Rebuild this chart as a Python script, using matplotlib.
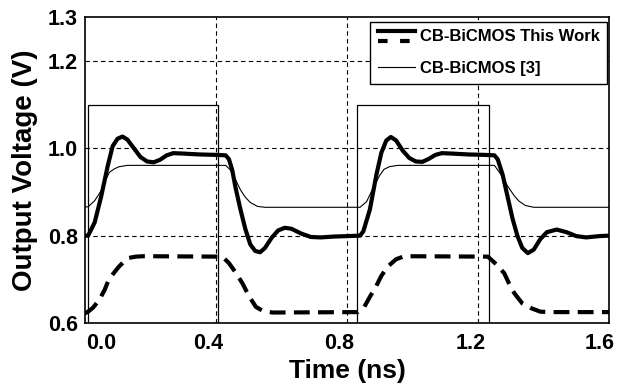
import matplotlib
matplotlib.use("Agg")
import matplotlib.pyplot as plt
import matplotlib.transforms as mtransforms
from matplotlib.lines import Line2D
from matplotlib.legend_handler import HandlerBase

plt.rcParams["font.family"] = ["Liberation Sans", "DejaVu Sans"]
plt.rcParams["font.weight"] = "bold"

# thick solid: CB-BiCMOS This Work (upper output)
t_work = [0.0, 0.01, 0.03, 0.05, 0.07, 0.085, 0.10, 0.115, 0.13, 0.15, 0.17, 0.19, 0.21, 0.23,
          0.25, 0.27, 0.30, 0.35, 0.40, 0.43, 0.44, 0.45, 0.46, 0.475, 0.49, 0.505, 0.52, 0.535,
          0.55, 0.57, 0.59, 0.61, 0.63, 0.66, 0.69, 0.72, 0.76, 0.80, 0.84,
          0.85, 0.87, 0.89, 0.905, 0.92, 0.934, 0.95, 0.97, 0.99, 1.01, 1.03, 1.05, 1.07, 1.09,
          1.12, 1.17, 1.22, 1.25, 1.26, 1.275, 1.29, 1.305, 1.32, 1.335, 1.352, 1.37, 1.39, 1.41,
          1.44, 1.47, 1.50, 1.53, 1.57, 1.60]
v_work = [0.800, 0.800, 0.830, 0.890, 0.960, 1.005, 1.022, 1.027, 1.020, 1.000, 0.980, 0.970, 0.968, 0.974,
          0.984, 0.989, 0.988, 0.986, 0.985, 0.984, 0.975, 0.950, 0.910, 0.860, 0.815, 0.780, 0.765, 0.762,
          0.772, 0.795, 0.812, 0.818, 0.816, 0.805, 0.797, 0.796, 0.798, 0.799, 0.800,
          0.810, 0.860, 0.940, 0.990, 1.018, 1.026, 1.018, 0.995, 0.978, 0.970, 0.969, 0.976, 0.985, 0.989,
          0.988, 0.986, 0.985, 0.984, 0.975, 0.940, 0.890, 0.840, 0.800, 0.772, 0.760, 0.768, 0.792, 0.808,
          0.814, 0.808, 0.799, 0.796, 0.799, 0.800]

# thick dashed: CB-BiCMOS This Work (lower output)
t_work2 = [0.0, 0.01, 0.025, 0.044, 0.06, 0.073, 0.09, 0.104, 0.12, 0.134, 0.155, 0.18, 0.42, 0.44,
           0.46, 0.481, 0.50, 0.522, 0.545, 0.573, 0.833, 0.853, 0.87, 0.889, 0.905, 0.924, 0.95,
           0.975, 1.23, 1.255, 1.28, 1.295, 1.311, 1.335, 1.362, 1.39, 1.42, 1.60]
v_work2 = [0.622, 0.626, 0.635, 0.653, 0.675, 0.699, 0.716, 0.729, 0.741, 0.749, 0.752, 0.753, 0.752, 0.737,
           0.716, 0.691, 0.663, 0.637, 0.627, 0.624, 0.625, 0.637, 0.660, 0.684, 0.708, 0.729, 0.746,
           0.753, 0.752, 0.735, 0.714, 0.690, 0.668, 0.645, 0.634, 0.626, 0.625, 0.625]

# thin: CB-BiCMOS [3]
t_ref = [0.0, 0.01, 0.03, 0.05, 0.065, 0.075, 0.09, 0.105, 0.13, 0.43, 0.445, 0.46, 0.475, 0.49,
         0.505, 0.527, 0.55, 0.84, 0.86, 0.883, 0.90, 0.913, 0.93, 0.955, 1.25, 1.27, 1.29, 1.31,
         1.325, 1.345, 1.37, 1.60]
v_ref = [0.866, 0.866, 0.880, 0.903, 0.930, 0.945, 0.953, 0.958, 0.961, 0.961, 0.950, 0.928, 0.905, 0.888,
         0.876, 0.867, 0.865, 0.865, 0.878, 0.914, 0.938, 0.952, 0.958, 0.961, 0.961, 0.940, 0.914, 0.892,
         0.879, 0.869, 0.865, 0.865]

# input pulse
t_in = [0.0, 0.01, 0.01, 0.407, 0.407, 0.83, 0.83, 1.232, 1.232, 1.60]
v_in = [0.0, 0.0, 1.1, 1.1, 0.0, 0.0, 1.1, 1.1, 0.0, 0.0]

x_ticks = [0.0, 0.4, 0.8, 1.2, 1.6]
y_ticks = [0.6, 0.8, 1.0, 1.2, 1.3]
# the exported figure has its x labels nudged off the ticks (pixels)
x_label_shift = [16, -8, -8, -7, -9]


class TwoLineHandler(HandlerBase):
    def create_artists(self, legend, orig_handle, xdescent, ydescent, width, height, fontsize, trans):
        x0, x1 = -xdescent, -xdescent + width
        top = Line2D([x0, x1], [height * 0.9, height * 0.9], color="black", lw=3)
        bot = Line2D([x0, x1], [height * 0.05, height * 0.05], color="black", lw=3,
                     dashes=(2.3, 3.0))
        top.set_transform(trans)
        bot.set_transform(trans)
        return [top, bot]


fig = plt.figure(figsize=(6.19, 3.85), dpi=100)
ax = fig.add_axes([0.137, 0.161, 0.847, 0.794])

ax.plot(t_in, v_in, color="black", lw=0.9)
ax.plot(t_ref, v_ref, color="black", lw=0.8)
ax.plot(t_work, v_work, color="black", lw=3)
ax.plot(t_work2, v_work2, color="black", lw=3, dashes=(3.8, 2.0))

ax.set_xlim(0, 1.6)
ax.set_ylim(0.6, 1.3)
ax.set_xticks(x_ticks)
ax.set_xticklabels([f"{x:.1f}" for x in x_ticks])
ax.set_yticks(y_ticks)
ax.set_yticklabels([f"{y:.1f}" for y in y_ticks])
ax.tick_params(length=0, labelsize=15.5)
ax.tick_params(axis="x", pad=7)
ax.tick_params(axis="y", pad=5)
for lab in ax.get_xticklabels() + ax.get_yticklabels():
    lab.set_fontweight("bold")
for lab, dx in zip(ax.get_xticklabels(), x_label_shift):
    lab.set_transform(lab.get_transform() + mtransforms.ScaledTranslation(dx / 100, 0, fig.dpi_scale_trans))

for y in [0.8, 1.0, 1.2]:
    ax.axhline(y, color="black", lw=0.8, dashes=(4, 3), zorder=0)
for x in [0.4, 0.8, 1.2]:
    ax.axvline(x, color="black", lw=0.8, dashes=(4, 3), zorder=0)

for s in ax.spines.values():
    s.set_linewidth(1.2)

ax.set_xlabel("Time (ns)", fontsize=19, fontweight="bold", labelpad=4)
ax.set_ylabel("Output Voltage (V)", fontsize=20, fontweight="bold", labelpad=7)

h_work = Line2D([], [], color="black", lw=3)
h_ref = Line2D([], [], color="black", lw=0.8)
leg = ax.legend([h_work, h_ref], ["CB-BiCMOS This Work", "CB-BiCMOS [3]"],
                handler_map={h_work: TwoLineHandler()},
                loc="upper right", bbox_to_anchor=(0.996, 0.985), fontsize=12,
                frameon=True, fancybox=False, edgecolor="black", framealpha=1,
                handlelength=2.2, handletextpad=0.3, labelspacing=1.0,
                borderpad=0.45, borderaxespad=0)
leg.get_frame().set_linewidth(1.0)
for txt in leg.get_texts():
    txt.set_fontweight("bold")

fig.savefig("out.png", dpi=100)
